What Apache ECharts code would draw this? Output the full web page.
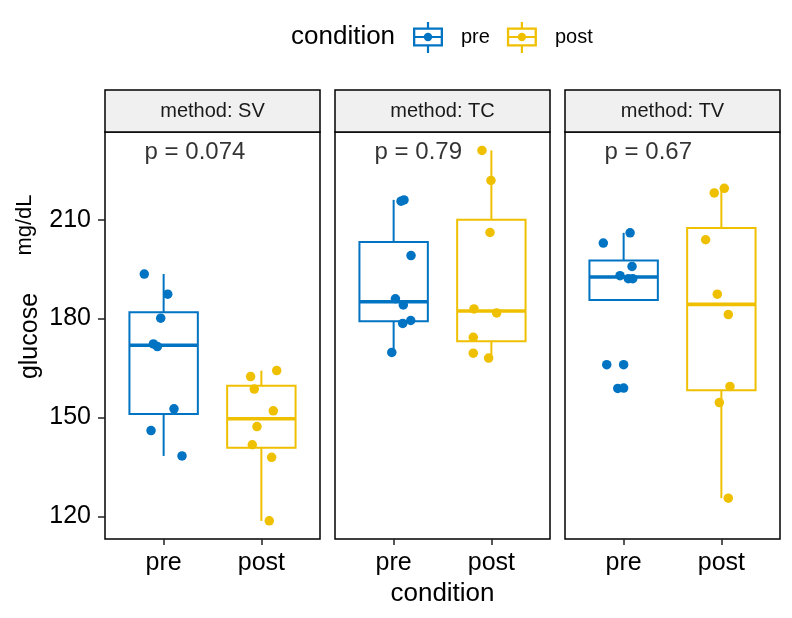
<!DOCTYPE html>
<html>
<head>
<meta charset="utf-8">
<script src="https://cdn.jsdelivr.net/npm/echarts@6/dist/echarts.min.js"></script>
<style>
html,body{margin:0;padding:0;background:#fff;}
#chart{width:792px;height:618px;}
</style>
</head>
<body>
<div id="chart"></div>
<script>
// ---------- data ----------
const methods = ['SV', 'TC', 'TV'];
const conditions = ['pre', 'post'];
const pValues = ['0.074', '0.79', '0.67'];
const yTicks = [120, 150, 180, 210];

// box statistics: [lower whisker, Q1, median, Q3, upper whisker]
const boxSVpre  = [138.3, 151.0, 171.9, 181.9, 193.5];
const boxSVpost = [118.6, 140.8, 149.6, 159.6, 164.2];
const boxTCpre  = [169.7, 179.2, 185.1, 203.2, 216.0];
const boxTCpost = [168.0, 173.1, 182.3, 210.0, 231.0];
const boxTVpre  = [185.6, 185.6, 192.6, 197.6, 206.0];
const boxTVpost = [125.5, 158.2, 184.3, 207.5, 219.5];

// jittered points: [x position (1 = pre, 2 = post), glucose]
const ptsSVpre  = [[0.802,193.5],[1.042,187.4],[0.970,180.1],[0.895,172.3],[0.936,171.5],[1.106,152.6],[0.871,146.0],[1.188,138.3]];
const ptsSVpost = [[1.890,162.4],[2.157,164.2],[1.927,158.6],[2.122,152.0],[1.955,147.2],[1.907,141.7],[2.105,137.9],[2.081,118.6]];
const ptsTCpre  = [[1.076,215.6],[1.106,216.0],[1.178,199.1],[1.018,186.0],[1.099,184.1],[1.093,178.5],[1.175,179.4],[0.981,169.7]];
const ptsTCpost = [[1.904,231.0],[1.996,221.9],[1.986,206.1],[1.822,182.9],[2.054,181.7],[1.815,174.3],[1.815,169.5],[1.972,168.0]];
const ptsTVpre  = [[0.792,202.9],[1.066,206.0],[1.086,195.8],[0.963,193.0],[1.048,192.1],[1.093,192.1],[0.827,166.0],[0.940,158.8]];
const ptsTVpost = [[1.927,218.1],[2.030,219.5],[1.839,203.9],[1.958,187.4],[2.071,181.2],[2.088,159.4],[1.979,154.5],[2.071,125.5]];
// boxplot outliers (drawn at the box centre)
const outTVpre  = [[1, 166.0], [1, 158.9]];

// ---------- layout / style ----------
const colors = { pre: '#0073C2', post: '#EFC000' };
const FONT = '"Liberation Sans", Arial, Helvetica, sans-serif';
const PANEL_LEFT = [105, 335, 565];
const PANEL_W = 215;
const GRID_TOP = 132;
const GRID_H = 407;
const STRIP_TOP = 90;
const Y_MIN = 113.1, Y_MAX = 236.6;

const boxes = [[boxSVpre, boxSVpost], [boxTCpre, boxTCpost], [boxTVpre, boxTVpost]];
const points = [[ptsSVpre, ptsSVpost], [ptsTCpre, ptsTCpost], [ptsTVpre, ptsTVpost]];
const outliers = [[[], []], [[], []], [outTVpre, []]];

function renderBox(params, api) {
  const x = api.value(0);
  const lo = api.value(1), q1 = api.value(2), md = api.value(3), q3 = api.value(4), hi = api.value(5);
  const hw = api.size([0.7, 0])[0] / 2;
  const cx = api.coord([x, md])[0];
  const yLo = api.coord([x, lo])[1], yQ1 = api.coord([x, q1])[1], yMd = api.coord([x, md])[1];
  const yQ3 = api.coord([x, q3])[1], yHi = api.coord([x, hi])[1];
  const color = api.visual('color');
  return {
    type: 'group',
    children: [
      { type: 'line', shape: { x1: cx, y1: yQ3, x2: cx, y2: yHi }, style: { stroke: color, lineWidth: 2 } },
      { type: 'line', shape: { x1: cx, y1: yQ1, x2: cx, y2: yLo }, style: { stroke: color, lineWidth: 2 } },
      { type: 'rect', shape: { x: cx - hw, y: yQ3, width: 2 * hw, height: yQ1 - yQ3 }, style: { fill: '#ffffff', stroke: color, lineWidth: 2 } },
      { type: 'line', shape: { x1: cx - hw, y1: yMd, x2: cx + hw, y2: yMd }, style: { stroke: color, lineWidth: 3.6 } }
    ]
  };
}

const grids = [], xAxes = [], yAxes = [], boxSeries = [], pointSeries = [], graphics = [];

methods.forEach((m, i) => {
  grids.push({ left: PANEL_LEFT[i], top: GRID_TOP, width: PANEL_W, height: GRID_H,
    show: true, borderColor: '#000', borderWidth: 1.5, backgroundColor: '#fff', containLabel: false });
  xAxes.push({
    gridIndex: i, type: 'value', min: 0.4, max: 2.6,
    splitLine: { show: false }, axisLine: { show: false },
    axisTick: { show: true, customValues: [1, 2], length: 6, lineStyle: { color: '#222', width: 1.5 } },
    axisLabel: { show: true, customValues: [1, 2], margin: 12, fontSize: 25, color: '#000', fontFamily: FONT,
      formatter: v => conditions[Math.round(v) - 1] },
    name: i === 1 ? 'condition' : '', nameLocation: 'middle', nameGap: 42,
    nameTextStyle: { fontSize: 26, color: '#000', fontFamily: FONT }
  });
  yAxes.push({
    gridIndex: i, type: 'value', min: Y_MIN, max: Y_MAX,
    splitLine: { show: false }, axisLine: { show: false },
    axisTick: { show: i === 0, customValues: yTicks, length: 7, lineStyle: { color: '#222', width: 1.5 } },
    axisLabel: { show: i === 0, customValues: yTicks, margin: 14, fontSize: 25, color: '#000', fontFamily: FONT }
  });
  conditions.forEach((c, j) => {
    boxSeries.push({
      type: 'custom', name: c, xAxisIndex: i, yAxisIndex: i, renderItem: renderBox,
      itemStyle: { color: colors[c] }, silent: true,
      encode: { x: 0, y: [1, 2, 3, 4, 5] },
      data: [[j + 1].concat(boxes[i][j])]
    });
    pointSeries.push({
      type: 'scatter', name: c, xAxisIndex: i, yAxisIndex: i, symbolSize: 9.5, silent: true,
      itemStyle: { color: colors[c], opacity: 1 }, data: points[i][j]
    });
    if (outliers[i][j].length) {
      pointSeries.push({
        type: 'scatter', name: c, xAxisIndex: i, yAxisIndex: i, symbolSize: 9.5, silent: true,
        itemStyle: { color: colors[c], opacity: 1 }, data: outliers[i][j]
      });
    }
  });
  // p-value label
  pointSeries.push({
    type: 'scatter', xAxisIndex: i, yAxisIndex: i, symbolSize: 1, silent: true,
    itemStyle: { color: 'rgba(0,0,0,0)' },
    label: { show: true, position: 'right', distance: 0, formatter: p => p.name,
      fontSize: 24, color: '#000', fontFamily: FONT },
    data: [{ value: [0.8, 230.4], name: 'p = ' + pValues[i] }]
  });
  // facet strip
  graphics.push({
    type: 'rect', shape: { x: PANEL_LEFT[i], y: STRIP_TOP, width: PANEL_W, height: GRID_TOP - STRIP_TOP },
    style: { fill: '#F0F0F0', stroke: '#000', lineWidth: 1.5 }, z: 10
  });
  graphics.push({
    type: 'text', x: PANEL_LEFT[i] + PANEL_W / 2, y: (STRIP_TOP + GRID_TOP) / 2 + 0.5, z: 11,
    style: { text: 'method: ' + m, fontSize: 20, fontFamily: FONT, fill: '#1a1a1a',
      align: 'center', verticalAlign: 'middle', textAlign: 'center', textVerticalAlign: 'middle' }
  });
});

// y-axis title
graphics.push({
  type: 'text', x: 30, y: 336, rotation: Math.PI / 2,
  style: { text: 'glucose', fontSize: 25, fontFamily: FONT, fill: '#000',
    align: 'center', verticalAlign: 'middle', textAlign: 'center', textVerticalAlign: 'middle' }
});
graphics.push({
  type: 'text', x: 25, y: 225, rotation: Math.PI / 2,
  style: { text: 'mg/dL', fontSize: 22, fontFamily: FONT, fill: '#000',
    align: 'center', verticalAlign: 'middle', textAlign: 'center', textVerticalAlign: 'middle' }
});

const legendIcon = 'path://M0 5.5H30V24.5H0Z M2.3 7.8V22.2H27.7V7.8Z M2.3 13.9H11H11V16.1H2.3Z M19 13.9H27.7V16.1H19Z ' +
  'M13.9 0H16.1V5.5H13.9Z M13.9 24.5H16.1V31H13.9Z M10.8 15A4.2 4.2 0 1 1 19.2 15A4.2 4.2 0 1 1 10.8 15Z';

const option = {
  animation: false,
  backgroundColor: '#fff',
  textStyle: { fontFamily: FONT },
  title: { text: 'condition', left: 286, top: 19,
    textStyle: { fontSize: 26, fontWeight: 'normal', color: '#000', fontFamily: FONT } },
  legend: {
    left: 408, top: 17, itemWidth: 30, itemHeight: 31, itemGap: 17,
    selectedMode: false,
    textStyle: { fontSize: 20, color: '#000', fontFamily: FONT, padding: [0, 0, 0, 13] },
    data: conditions.map(c => ({ name: c, icon: legendIcon, itemStyle: { color: colors[c] } }))
  },
  grid: grids,
  xAxis: xAxes,
  yAxis: yAxes,
  series: boxSeries.concat(pointSeries),
  graphic: graphics
};

const chart = echarts.init(document.getElementById('chart'), null, { renderer: 'canvas' });
chart.setOption(option);
</script>
</body>
</html>
